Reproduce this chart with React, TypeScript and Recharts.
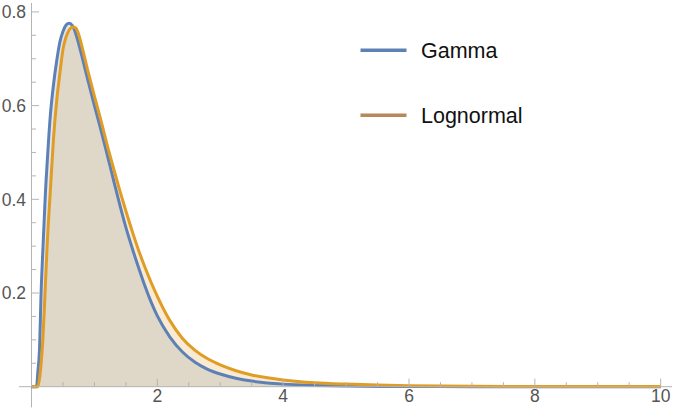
import React from 'react';
import { ComposedChart, Area, Line, XAxis, YAxis, ReferenceLine } from 'recharts';

// x positions (denser around the peak)
const xValues = [
  0, 0.05, 0.08, 0.1, 0.13, 0.15, 0.18, 0.2, 0.22, 0.25,
  0.3, 0.35, 0.4, 0.45, 0.5, 0.55, 0.6, 0.65, 0.7, 0.75,
  0.8, 0.9, 1.0, 1.1, 1.2, 1.3, 1.4, 1.5, 1.6, 1.7,
  1.8, 1.9, 2.0, 2.2, 2.4, 2.6, 2.8, 3.0, 3.25, 3.5,
  3.75, 4.0, 4.5, 5, 5.5, 6, 7, 8, 9, 10,
];

const gammaValues = [
  0, 0, 0, 0.03, 0.09, 0.19, 0.29, 0.35, 0.41, 0.48,
  0.58, 0.645, 0.695, 0.735, 0.758, 0.772, 0.776, 0.771, 0.755, 0.732,
  0.706, 0.652, 0.6, 0.55, 0.497, 0.443, 0.39, 0.34, 0.296, 0.255,
  0.216, 0.181, 0.151, 0.106, 0.074, 0.052, 0.037, 0.027, 0.018, 0.012,
  0.008, 0.0055, 0.0028, 0.0013, 0.0006, 0.0003, 0.0001, 0, 0, 0,
];

const lognormalValues = [
  0, 0, 0, 0, 0.02, 0.045, 0.1, 0.155, 0.215, 0.305,
  0.42, 0.53, 0.61, 0.668, 0.72, 0.747, 0.762, 0.768, 0.766, 0.752,
  0.727, 0.672, 0.62, 0.57, 0.517, 0.468, 0.42, 0.375, 0.332, 0.292,
  0.256, 0.223, 0.193, 0.141, 0.103, 0.0775, 0.0595, 0.0465, 0.034, 0.025,
  0.019, 0.0145, 0.0085, 0.0055, 0.0035, 0.0022, 0.001, 0.0005, 0.0003, 0.0002,
];

const xTicks = [0.5, 1, 1.5, 2, 2.5, 3, 3.5, 4, 4.5, 5, 5.5, 6, 6.5, 7, 7.5, 8, 8.5, 9, 9.5, 10];
const xMajor = [2, 4, 6, 8, 10];
const yTicks = [0.05, 0.1, 0.15, 0.2, 0.25, 0.3, 0.35, 0.4, 0.45, 0.5, 0.55, 0.6, 0.65, 0.7, 0.75, 0.8];
const yMajor = [0.2, 0.4, 0.6, 0.8];

const legendNames = ['Gamma', 'Lognormal'];
const legendColors = ['#5e81b5', '#b88858'];

const BLUE = '#5e81b5';
const ORANGE = '#e19c24';
const AXIS = '#b4b4b4';
const LABEL = '#555555';
const FONT = '"Liberation Sans", Arial, sans-serif';

const data = xValues.map((x, i) => ({
  x,
  gamma: gammaValues[i],
  lognormal: lognormalValues[i],
}));

// ticks sit on the axis and point inward, labels only on the major ones
function XTick(props: any) {
  const { x, y, payload } = props;
  const major = xMajor.includes(payload.value);
  return (
    <g>
      <line x1={x} y1={y} x2={x} y2={y - (major ? 8 : 4.5)} stroke={AXIS} strokeWidth={1} />
      {major && (
        <text x={x} y={y + 15.5} textAnchor="middle" fill={LABEL} fontSize={17.5} fontFamily={FONT}>
          {payload.value}
        </text>
      )}
    </g>
  );
}

function YTick(props: any) {
  const { x, y, payload } = props;
  const major = yMajor.some((m) => Math.abs(m - payload.value) < 1e-6);
  return (
    <g>
      <line x1={x} y1={y} x2={x + (major ? 7.5 : 4.5)} y2={y} stroke={AXIS} strokeWidth={1} />
      {major && (
        <text x={x - 5.5} y={y + 6.2} textAnchor="end" fill={LABEL} fontSize={17.5} fontFamily={FONT}>
          {payload.value.toFixed(1)}
        </text>
      )}
    </g>
  );
}

export default function App() {
  return (
    <div style={{ position: 'fixed', left: 0, top: 0, width: 676, height: 419, background: '#fff' }}>
      <ComposedChart
        width={676}
        height={419}
        data={data}
        margin={{ top: 3, right: 4, bottom: 2.3, left: 1.5 }}
      >
        <XAxis
          dataKey="x"
          type="number"
          domain={[0, 10.18]}
          ticks={xTicks}
          interval={0}
          height={30}
          tickSize={0}
          tickMargin={0}
          tickLine={false}
          axisLine={{ stroke: AXIS }}
          tick={XTick}
        />
        <YAxis
          type="number"
          domain={[0, 0.819]}
          ticks={yTicks}
          interval={0}
          width={30}
          tickSize={0}
          tickMargin={0}
          tickLine={false}
          axisLine={{ stroke: AXIS }}
          tick={YTick}
        />
        <ReferenceLine
          segment={[{ x: -0.2, y: 0 }, { x: 0, y: 0 }]}
          stroke={AXIS}
          ifOverflow="visible"
        />
        <ReferenceLine
          segment={[{ x: 0, y: 0 }, { x: 0, y: -0.044 }]}
          stroke={AXIS}
          ifOverflow="visible"
        />
        <Area
          type="monotone"
          dataKey="gamma"
          baseValue={0}
          stroke="none"
          fill={BLUE}
          fillOpacity={0.2}
          isAnimationActive={false}
        />
        <Area
          type="monotone"
          dataKey="lognormal"
          baseValue={0}
          stroke="none"
          fill={ORANGE}
          fillOpacity={0.2}
          isAnimationActive={false}
        />
        <Line
          type="monotone"
          dataKey="gamma"
          stroke={BLUE}
          strokeWidth={3}
          dot={false}
          isAnimationActive={false}
        />
        <Line
          type="monotone"
          dataKey="lognormal"
          stroke={ORANGE}
          strokeWidth={3}
          dot={false}
          isAnimationActive={false}
        />
      </ComposedChart>
      <svg
        width={676}
        height={419}
        style={{ position: 'absolute', left: 0, top: 0, pointerEvents: 'none' }}
      >
        {legendNames.map((name, i) => (
          <g key={name}>
            <line
              x1={360.5}
              x2={406.5}
              y1={50.3 + i * 65}
              y2={50.3 + i * 65}
              stroke={legendColors[i]}
              strokeWidth={3.5}
            />
            <text x={421} y={58.3 + i * 65} fill="#111" fontSize={21.5} fontFamily={FONT}>
              {name}
            </text>
          </g>
        ))}
      </svg>
    </div>
  );
}
